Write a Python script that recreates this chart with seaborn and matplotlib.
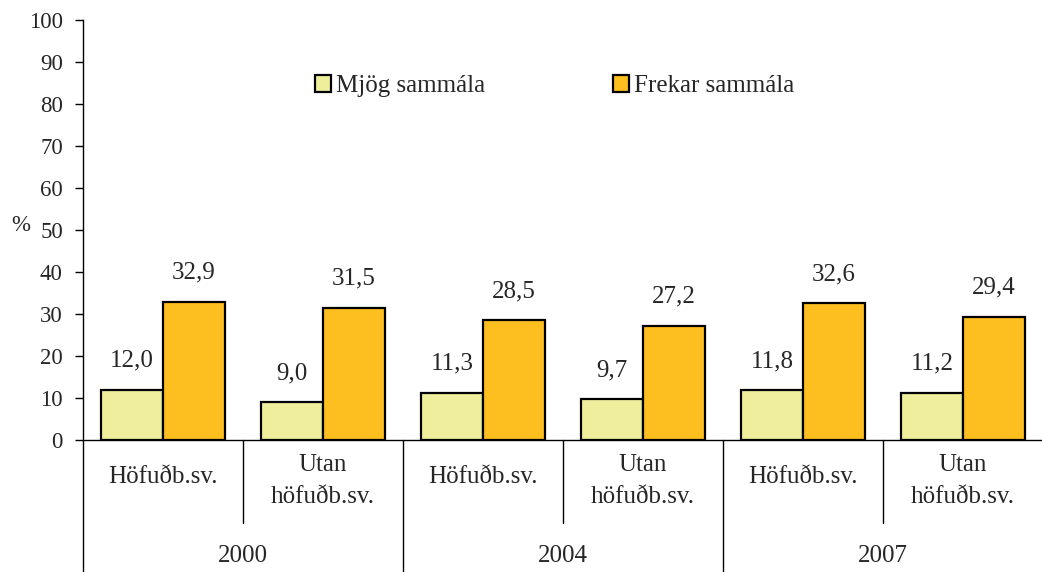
import matplotlib
matplotlib.use("Agg")
import matplotlib.pyplot as plt
import seaborn as sns
import pandas as pd
from matplotlib.patches import Patch

categories = ["Höfuðb.sv.", "Utan\nhöfuðb.sv.", "Höfuðb.sv.", "Utan\nhöfuðb.sv.", "Höfuðb.sv.", "Utan\nhöfuðb.sv."]
cat_ids = ["2000 H", "2000 U", "2004 H", "2004 U", "2007 H", "2007 U"]
years = ["2000", "2004", "2007"]
mjog = [12.0, 9.0, 11.3, 9.7, 11.8, 11.2]
frekar = [32.9, 31.5, 28.5, 27.2, 32.6, 29.4]
series = ["Mjög sammála", "Frekar sammála"]
colors = ["#EEEE9C", "#FDBF20"]

df = pd.DataFrame({
    "cat": cat_ids * 2,
    "series": [series[0]] * 6 + [series[1]] * 6,
    "value": mjog + frekar,
})

sns.set_style("white")
plt.rcParams["font.family"] = ["Liberation Serif", "DejaVu Serif"]
FS = 18
TFS = 16.5

fig = plt.figure(figsize=(10.42, 5.72), dpi=100)
ax = fig.add_axes([83 / 1042, 1 - 440 / 572, 960 / 1042, 420 / 572])

sns.barplot(data=df, x="cat", y="value", hue="series", order=cat_ids,
            hue_order=series, palette=colors, width=0.775, ax=ax,
            edgecolor="black", linewidth=1.6, legend=False, saturation=1)

for cont in ax.containers:
    vals = [b.get_height() for b in cont]
    ax.bar_label(cont, labels=[f"{v:.1f}".replace(".", ",") for v in vals],
                 padding=13, fontsize=FS)

ax.set_ylim(0, 100)
ax.set_xlim(-0.5, len(cat_ids) - 0.5)
ax.set_yticks(range(0, 101, 10))
ax.tick_params(axis="y", labelsize=TFS, length=5.5, width=1, direction="out",
               color="black", pad=9, left=True)
ax.set_xticks([])
ax.set_xlabel("")
ax.set_ylabel("")
ax.text(-0.0646, 0.51, "%", transform=ax.transAxes, ha="center", va="center", fontsize=TFS)
for s in ["top", "right"]:
    ax.spines[s].set_visible(False)
for s in ["left", "bottom"]:
    ax.spines[s].set_color("black")
    ax.spines[s].set_linewidth(1)

trans = ax.get_xaxis_transform()
# category labels
for i, lab in enumerate(categories):
    yc = -41 / 420 if "\n" in lab else -37 / 420
    ax.text(i, yc, lab, transform=trans, ha="center", va="center",
            fontsize=FS, linespacing=1.55)
# separators
for i in range(len(cat_ids) + 1):
    x = i - 0.5
    is_year = (i % 2 == 0)
    y_end = -132 / 420 if is_year else -83 / 420
    ax.plot([x, x], [0, y_end], transform=trans, color="black", lw=1, clip_on=False)
# year labels
for j, yr in enumerate(years):
    ax.text(2 * j + 0.5, -116 / 420, yr, transform=trans, ha="center", va="center", fontsize=FS)

handles = [Patch(facecolor=c, edgecolor="black", linewidth=1.6) for c in colors]
ax.legend(handles, series, ncol=2, loc="center", bbox_to_anchor=(0.4916, 0.842),
          frameon=False, fontsize=FS, handlelength=0.65, handleheight=0.65,
          handletextpad=0.2, columnspacing=5.1)

fig.savefig("out.png", dpi=100)
